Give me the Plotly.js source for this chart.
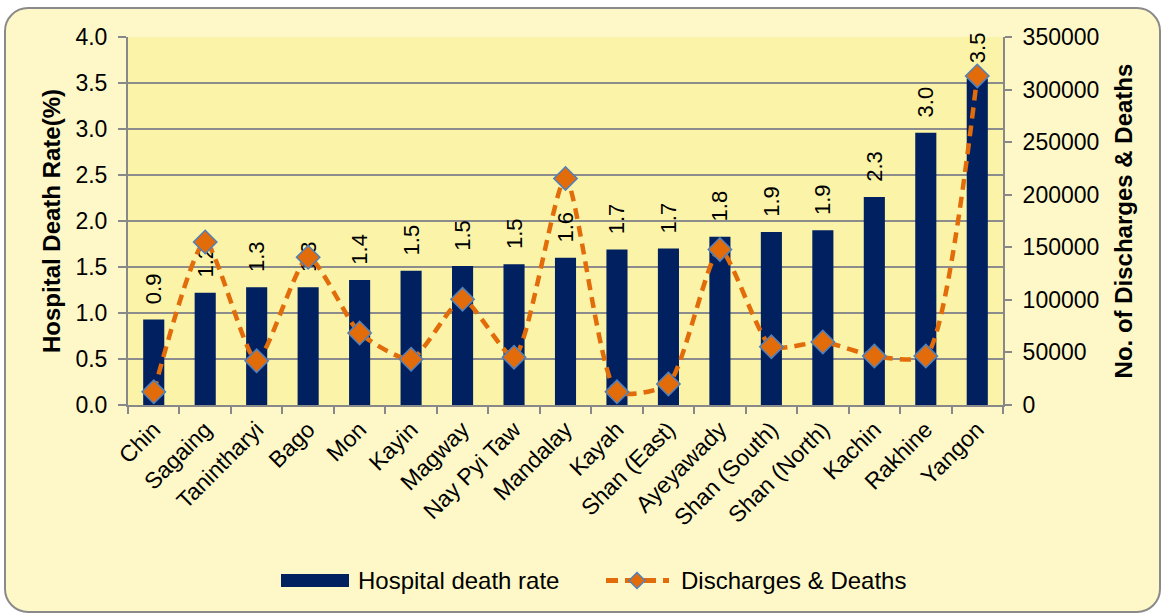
<!DOCTYPE html>
<html>
<head>
<meta charset="utf-8">
<script src="https://cdn.plot.ly/plotly-3.0.1.min.js"></script>
<style>
  html, body { margin:0; padding:0; background:#ffffff; }
  #frame { position:absolute; left:4px; top:7px; width:1153px; height:602px;
           border:2px solid #8a8a8a; border-radius:24px; background:#FEF8C8; }
  #chart { position:absolute; left:0; top:0; width:1163px; height:615px; }
</style>
</head>
<body>
<div id="frame"></div>
<div id="chart"></div>
<script>
const regions = ["Chin","Sagaing","Tanintharyi","Bago","Mon","Kayin","Magway","Nay Pyi Taw","Mandalay","Kayah","Shan (East)","Ayeyawady","Shan (South)","Shan (North)","Kachin","Rakhine","Yangon"];
const deathRate = [0.93, 1.22, 1.28, 1.28, 1.36, 1.46, 1.51, 1.53, 1.60, 1.69, 1.70, 1.83, 1.88, 1.90, 2.26, 2.96, 3.55];
const dischargesDeaths = [12500, 155000, 42000, 140500, 68500, 43500, 100500, 45500, 215500, 12500, 20000, 148000, 55500, 60000, 46500, 46500, 313000];
const seriesNames = ["Hospital death rate", "Discharges & Deaths"];

const font = "Liberation Sans, Arial, sans-serif";
const barColor = "#002060";
const lineColor = "#E36C0A";
const markerEdge = "#4F81BD";

const traces = [
  {
    type: "bar", name: seriesNames[0], x: regions, y: deathRate,
    marker: { color: barColor },
    texttemplate: "\u00a0\u00a0%{y:.1f}", textposition: "outside", textangle: -90,
    constraintext: "none",
    textfont: { family: font, size: 22, color: "#000000" }, cliponaxis: false
  },
  {
    type: "scatter", mode: "lines+markers", name: seriesNames[1],
    x: regions, y: dischargesDeaths, yaxis: "y2",
    line: { color: lineColor, width: 4.5, dash: "11px,7px", shape: "spline", smoothing: 0.6 },
    marker: { symbol: "diamond", size: 18, color: lineColor, line: { color: markerEdge, width: 1.5 } },
    cliponaxis: false
  }
];

// pixel -> paper helpers for the hand-made legend (plot area: x 128..1003, y 37..405)
const px = v => (v - 128) / 875;
const py = v => (405 - v) / 368;

const layout = {
  width: 1163, height: 615,
  paper_bgcolor: "rgba(0,0,0,0)", plot_bgcolor: "#FBF4A8",
  margin: { l: 128, r: 160, t: 37, b: 210 },
  font: { family: font, size: 23, color: "#000000" },
  bargap: 0.59,
  showlegend: false,
  xaxis: {
    type: "category", range: [-0.5, 16.5], tickangle: -45, ticks: "outside", tickson: "boundaries", ticklen: 7,
    tickcolor: "#888888", tickwidth: 2, showline: true, linecolor: "#888888", linewidth: 2,
    tickfont: { family: font, size: 23 }, showgrid: false, automargin: false
  },
  yaxis: {
    range: [0, 4], dtick: 0.5, tickformat: ".1f", ticks: "outside", ticklen: 8, tickwidth: 2,
    tickcolor: "#888888", showline: true, linecolor: "#888888", linewidth: 2,
    gridcolor: "#8c8c8c", gridwidth: 2, zeroline: false, ticklabelstandoff: 6,
    tickfont: { family: font, size: 23 }, automargin: false,
    title: { text: "<b>Hospital Death Rate(%)</b>", font: { family: font, size: 24 }, standoff: 8 }
  },
  yaxis2: {
    overlaying: "y", side: "right", range: [0, 350000], dtick: 50000, tickformat: "d",
    ticks: "outside", ticklen: 7, tickwidth: 2, tickcolor: "#888888", showline: true, linecolor: "#888888", linewidth: 2,
    showgrid: false, zeroline: false, tickfont: { family: font, size: 23 }, automargin: false, ticklabelstandoff: 6,
    title: { text: "<b>No. of Discharges & Deaths</b>", font: { family: font, size: 24 }, standoff: 17 }
  },
  shapes: [
    { type: "rect", xref: "paper", yref: "paper", x0: px(281), x1: px(349), y0: py(587), y1: py(574),
      fillcolor: barColor, line: { width: 0 } },
    { type: "line", xref: "paper", yref: "paper", x0: px(606), x1: px(669), y0: py(580.5), y1: py(580.5),
      line: { color: lineColor, width: 5, dash: "12px,7px" } },
    { type: "path", xref: "paper", yref: "paper", xsizemode: "pixel", ysizemode: "pixel",
      xanchor: px(637), yanchor: py(580.5), path: "M -8 0 L 0 -8 L 8 0 L 0 8 Z",
      fillcolor: lineColor, line: { color: markerEdge, width: 1.5 } }
  ],
  annotations: [
    { xref: "paper", yref: "paper", x: px(356), y: py(580), xanchor: "left", yanchor: "middle",
      text: seriesNames[0], showarrow: false, font: { family: font, size: 24 } },
    { xref: "paper", yref: "paper", x: px(679), y: py(580), xanchor: "left", yanchor: "middle",
      text: seriesNames[1], showarrow: false, font: { family: font, size: 24 } }
  ]
};

Plotly.newPlot("chart", traces, layout, { displayModeBar: false, staticPlot: true });
</script>
</body>
</html>
